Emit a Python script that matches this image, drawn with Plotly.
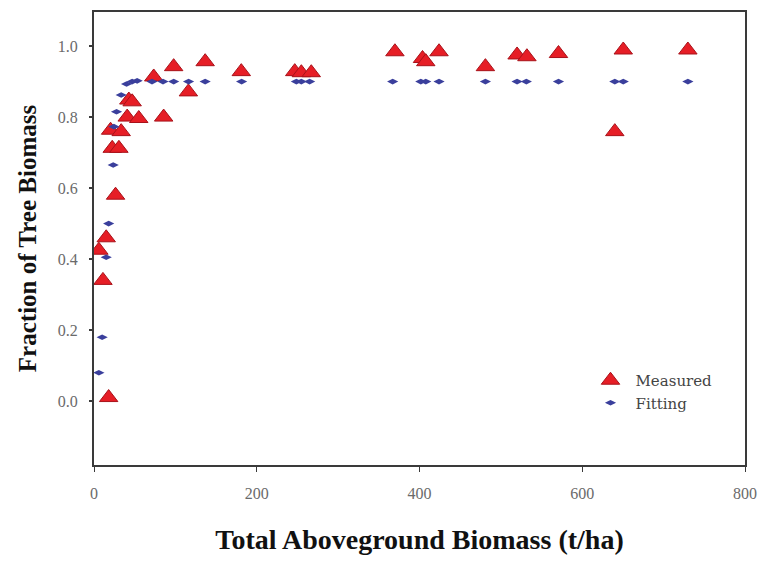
import plotly.graph_objects as go

# Measured fraction of tree biomass vs total aboveground biomass (t/ha)
measured_x = [6, 11, 15, 18, 20.4, 22.4, 26.5, 30.6, 33.4, 40.8, 42.8, 46.9, 55, 73.4,
              85.6, 97.9, 116, 136.6, 181, 246.7, 254.8, 267, 369.8, 403.7, 407.7, 424,
              481, 519.9, 532, 570.8, 640, 650.4, 729.8]
measured_y = [0.425, 0.34, 0.46, 0.01, 0.763, 0.712, 0.58, 0.712, 0.759, 0.80, 0.848, 0.843,
              0.796, 0.913, 0.80, 0.942, 0.871, 0.956, 0.928, 0.928, 0.925, 0.925, 0.984,
              0.965, 0.956, 0.984, 0.942, 0.975, 0.97, 0.979, 0.759, 0.989, 0.989]

# Fitted values
fitting_x = [6, 10, 15, 18, 23.6, 24.5, 27.7, 33.4, 40, 46.9, 53, 71.3, 84.8, 97.9, 116.2,
             136.6, 181.4, 248.7, 254.8, 265, 367, 401.6, 407.7, 424, 481, 519.9, 531.3,
             570.8, 640, 650.4, 729.8]
fitting_y = [0.08, 0.18, 0.405, 0.50, 0.665, 0.773, 0.815, 0.862, 0.893, 0.90, 0.902, 0.90,
             0.90, 0.90, 0.90, 0.90, 0.90, 0.90, 0.90, 0.90, 0.90, 0.90, 0.90, 0.90, 0.90,
             0.90, 0.90, 0.90, 0.90, 0.90, 0.90]

x_ticks = [0, 200, 400, 600, 800]
y_ticks = [0.0, 0.2, 0.4, 0.6, 0.8, 1.0]

fig = go.Figure()
fig.add_trace(go.Scatter(
    x=measured_x, y=measured_y, mode="markers", name="Measured",
    marker=dict(symbol="triangle-up", size=16, color="#e61e26",
                line=dict(color="#a8121a", width=1)),
))
fig.add_trace(go.Scatter(
    x=fitting_x, y=fitting_y, mode="markers", name="Fitting",
    marker=dict(symbol="diamond-wide", size=8, color="#3a3f9c",
                line=dict(color="#3a3f9c", width=0)),
))

axis_font = dict(family="Liberation Serif", size=16, color="#6a6a6a")

fig.update_layout(
    width=760, height=561,
    margin=dict(l=94, r=15, t=12, b=96),
    paper_bgcolor="white", plot_bgcolor="white",
    showlegend=True,
    legend=dict(x=0.755, y=0.223, xanchor="left", yanchor="top",
                font=dict(family="DejaVu Serif", size=15, color="#444444"),
                bgcolor="rgba(0,0,0,0)", itemsizing="trace", itemwidth=40,
                tracegroupgap=4),
    xaxis=dict(range=[0, 800], tickvals=x_ticks, ticktext=[str(v) for v in x_ticks],
               automargin=False,
               showgrid=False, zeroline=False, showline=True, linecolor="#3a3a3a",
               linewidth=2, mirror=True, ticks="outside", ticklen=5, tickwidth=1,
               tickcolor="#3a3a3a", tickfont=axis_font, ticklabelstandoff=8,
               title=dict(text="<b>Total Aboveground Biomass (t/ha)</b>",
                          font=dict(family="Liberation Serif", size=28, color="#111111"),
                          standoff=28)),
    yaxis=dict(range=[-0.18, 1.096], tickvals=y_ticks,
               ticktext=[f"{v:.1f}" for v in y_ticks],
               automargin=False,
               showgrid=False, zeroline=False, showline=True, linecolor="#3a3a3a",
               linewidth=2, mirror=True, ticks="outside", ticklen=3, tickwidth=2,
               tickcolor="#3a3a3a", tickfont=axis_font, ticklabelstandoff=8,
               title=dict(text="<b>Fraction of Tree Biomass</b>",
                          font=dict(family="Liberation Serif", size=25, color="#111111"),
                          standoff=14)),
)

fig.write_html("out.html")
